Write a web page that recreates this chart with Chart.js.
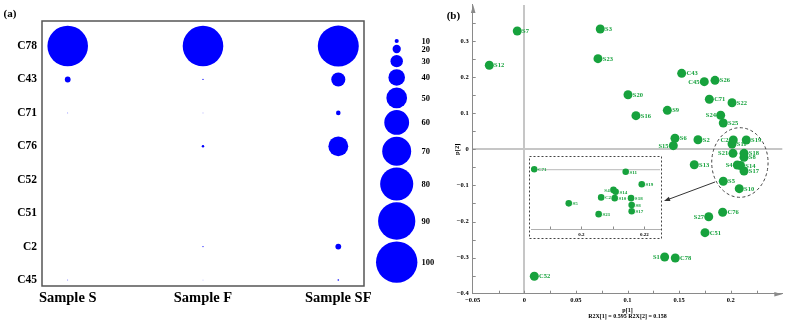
<!DOCTYPE html>
<html><head><meta charset="utf-8">
<script src="https://cdn.jsdelivr.net/npm/chart.js@4.4.1/dist/chart.umd.min.js"></script>
<style>
html,body{margin:0;padding:0;background:#fff;width:786px;height:326px;overflow:hidden}
.c{position:absolute}
canvas{display:block}
</style></head><body>
<div class="c" style="left:0;top:0"><canvas id="ca" width="372" height="326"></canvas></div>
<div class="c" style="left:372px;top:0"><canvas id="cl" width="70" height="326"></canvas></div>
<div class="c" style="left:440px;top:0"><canvas id="cb" width="346" height="326"></canvas></div>
<div class="c" style="left:529px;top:156px"><canvas id="ci" width="133" height="83"></canvas></div>
<script>
// ---------- Panel (a) data ----------
const samples = ['Sample S', 'Sample F', 'Sample SF'];
const compounds = ['C78', 'C43', 'C71', 'C76', 'C52', 'C51', 'C2', 'C45'];
const sampleS  = [98, 14, 2,   0,  0, 0, 0,  2];
const sampleF  = [98, 3,  1.5, 6,  0, 0, 3,  1.5];
const sampleSF = [99, 34, 11,  48, 0, 0, 14, 4];
const legendSizes = [10, 20, 30, 40, 50, 60, 70, 80, 90, 100];

// ---------- Panel (b) data ----------
const scoreNames = ['S1','S2','S3','S4','S5','S6','S7','S8','S9','S10','S11','S12','S13','S14','S15','S16','S17','S18','S19','S20','S21','S22','S23','S24','S25','S26','S27','C2','C43','C45','C51','C52','C71','C76','C78'];
const scoreX = [0.1360,0.1683,0.0736,0.2064,0.1928,0.1460,-0.0068,0.2129,0.1386,0.2083,0.2013,-0.0339,0.1647,0.2095,0.1444,0.1082,0.2129,0.2129,0.2151,0.1005,0.2022,0.2013,0.0714,0.1903,0.1928,0.1848,0.1787,0.2025,0.1525,0.1744,0.1751,0.0097,0.1793,0.1922,0.1463];
const scoreY = [-0.2983,0.0266,0.3332,-0.0435,-0.0886,0.0305,0.3277,-0.0222,0.1080,-0.1091,0.0147,0.2327,-0.0427,-0.0449,0.0100,0.0931,-0.0601,-0.0111,0.0258,0.1512,-0.0111,0.1291,0.2510,0.0942,0.0729,0.1911,-0.1867,0.0258,0.2105,0.1873,-0.2310,-0.3518,0.1385,-0.1745,-0.3011];
const p1TickLabels = [-0.05, 0, 0.05, 0.1, 0.15, 0.2];
const p2TickLabels = [-0.4, -0.3, -0.2, -0.1, 0, 0.1, 0.2, 0.3];

const insetNames = ['C71','S11','S19','S4','S14','C2','S10','S18','S8','S17','S5','S21'];
const insetX = [0.1850,0.2141,0.2192,0.2102,0.2109,0.2063,0.2106,0.2158,0.2160,0.2160,0.1960,0.2055];
const insetY = [0.0006,-0.0018,-0.0135,-0.0188,-0.0206,-0.0258,-0.0265,-0.0265,-0.0330,-0.0388,-0.0314,-0.0415];
const insetTickLabels = [0.2, 0.22];

const zoomEllipse = {x: 0.2089, y: -0.0366, rx: 0.0273, ry: 0.0964};
const zoomArrow = {from: [0.1848, -0.0906], to: [0.1354, -0.1432]};

// ---------- styling ----------
const FONT = "'Liberation Serif','Times New Roman',serif";
const GREEN = '#17a23d';
const BLUE = '#0000ff';
const K = 0.207; // bubble radius (px) per size unit
Chart.defaults.font.family = FONT;
Chart.defaults.color = '#000';
Chart.defaults.animation = false;
Chart.defaults.events = [];
Chart.defaults.plugins.legend.display = false;
Chart.defaults.plugins.tooltip.enabled = false;

const near = (a, b) => Math.abs(a - b) < 1e-9;
const fmt = v => String(Math.round(v * 1000) / 1000).replace('-', '\u2212');
const fixW = w => s => { s.width = w; s.paddingTop = 0; s.paddingBottom = 0; };
const fixH = h => s => { s.height = h; s.paddingLeft = 0; s.paddingRight = 0; };

function arrowHead(ctx, x, y, ang, len, hw) {
  const bx = x - len * Math.cos(ang), by = y - len * Math.sin(ang);
  ctx.beginPath();
  ctx.moveTo(x, y);
  ctx.lineTo(bx + hw * Math.sin(ang), by - hw * Math.cos(ang));
  ctx.lineTo(bx - hw * Math.sin(ang), by + hw * Math.cos(ang));
  ctx.closePath();
  ctx.fill();
}

function labelPlugin(names, leftNames, size, gap) {
  return {
    id: 'ptLabels',
    afterDatasetsDraw(chart) {
      const ctx = chart.ctx, meta = chart.getDatasetMeta(0);
      ctx.save();
      ctx.font = 'bold ' + size + 'px ' + FONT;
      ctx.fillStyle = GREEN;
      ctx.textBaseline = 'middle';
      meta.data.forEach((el, i) => {
        const n = names[i], left = leftNames.includes(n);
        ctx.textAlign = left ? 'right' : 'left';
        ctx.fillText(n, el.x + (left ? -gap : gap), el.y + 0.5);
      });
      ctx.restore();
    }
  };
}

function inwardTicks(chart, len, color, doY) {
  const {ctx, chartArea: a, scales: {x, y}} = chart;
  ctx.save();
  ctx.strokeStyle = color; ctx.lineWidth = 1;
  ctx.beginPath();
  x.ticks.forEach(t => {
    if (near(t.value, x.max) || near(t.value, x.min)) return;
    const px = Math.round(x.getPixelForValue(t.value)) + 0.5;
    ctx.moveTo(px, a.bottom); ctx.lineTo(px, a.bottom - len);
  });
  if (doY) y.ticks.forEach(t => {
    if (near(t.value, y.max) || near(t.value, y.min)) return;
    const py = Math.round(y.getPixelForValue(t.value)) + 0.5;
    ctx.moveTo(a.left, py); ctx.lineTo(a.left + len, py);
  });
  ctx.stroke();
  ctx.restore();
}

// ---------- Panel (a) bubble chart ----------
const bubbleData = [];
[sampleS, sampleF, sampleSF].forEach((arr, i) =>
  arr.forEach((v, j) => bubbleData.push({x: i, y: compounds.length - 1 - j, r: v * K})));

const boxA = {
  id: 'boxA',
  afterDraw(c) {
    const {ctx, chartArea: a} = c;
    ctx.save();
    ctx.strokeStyle = '#555'; ctx.lineWidth = 1.5;
    ctx.strokeRect(a.left, a.top, a.right - a.left, a.bottom - a.top);
    ctx.fillStyle = '#000'; ctx.font = 'bold 11px ' + FONT;
    ctx.textBaseline = 'middle'; ctx.textAlign = 'left';
    ctx.fillText('(a)', 3.5, 14);
    ctx.restore();
  }
};

new Chart(document.getElementById('ca'), {
  type: 'bubble',
  data: {datasets: [{data: bubbleData, backgroundColor: BLUE, borderWidth: 0}]},
  options: {
    responsive: false,
    layout: {autoPadding: false, padding: {top: 21, right: 8, left: 0, bottom: 0}},
    scales: {
      x: {type: 'linear', min: -0.19, max: 2.19,
        afterBuildTicks: s => { s.ticks = samples.map((_, i) => ({value: i})); },
        ticks: {callback: v => samples[v], font: {size: 14.5, weight: 'bold'}, padding: 4, maxRotation: 0, autoSkip: false},
        grid: {display: false, drawTicks: false}, border: {display: false},
        afterFit: fixH(40)},
      y: {type: 'linear', min: -0.18, max: 7.75,
        afterBuildTicks: s => { s.ticks = compounds.map((_, j) => ({value: j})); },
        ticks: {callback: v => compounds[compounds.length - 1 - v], font: {size: 11.5, weight: 'bold'}, padding: 5, autoSkip: false},
        grid: {display: false, drawTicks: false}, border: {display: false},
        afterFit: fixW(42)}
    }
  },
  plugins: [boxA]
});

// ---------- Size legend ----------
const legendCenters = [];
let cy = 41;
legendSizes.forEach((v, i) => {
  if (i > 0) cy += K * (legendSizes[i - 1] + v) + 1.8;
  legendCenters.push(cy);
});
const legendLabels = {
  id: 'legLabels',
  afterDatasetsDraw(chart) {
    const ctx = chart.ctx, meta = chart.getDatasetMeta(0);
    ctx.save();
    ctx.font = 'bold 8.5px ' + FONT; ctx.fillStyle = '#000';
    ctx.textBaseline = 'middle'; ctx.textAlign = 'left';
    meta.data.forEach((el, i) => ctx.fillText(String(legendSizes[i]), el.x + 24.8, el.y + 0.5));
    ctx.restore();
  }
};
new Chart(document.getElementById('cl'), {
  type: 'bubble',
  data: {datasets: [{data: legendSizes.map((v, i) => ({x: 0, y: legendCenters[i], r: v * K})), backgroundColor: BLUE, borderWidth: 0, clip: false}]},
  options: {
    responsive: false,
    layout: {autoPadding: false, padding: 0},
    scales: {
      x: {type: 'linear', min: -24.7, max: 45.3, display: false},
      y: {type: 'linear', min: 0, max: 326, reverse: true, display: false}
    }
  },
  plugins: [legendLabels]
});

// ---------- Panel (b) scores plot ----------
const decorB = {
  id: 'decorB',
  beforeDatasetsDraw(chart) {
    inwardTicks(chart, 3, '#8a8a8a', true);
    const {ctx, chartArea: a} = chart;
    ctx.save();
    ctx.fillStyle = '#8a8a8a';
    arrowHead(ctx, a.left + 0.5, a.top, -Math.PI / 2, 8, 2.3);
    arrowHead(ctx, a.right, a.bottom + 0.5, 0, 8, 2.3);
    ctx.restore();
  },
  afterDatasetsDraw(chart) {
    const {ctx, scales: {x, y}} = chart;
    ctx.save();
    const ex = x.getPixelForValue(zoomEllipse.x), ey = y.getPixelForValue(zoomEllipse.y);
    const rx = Math.abs(x.getPixelForValue(zoomEllipse.x + zoomEllipse.rx) - ex);
    const ry = Math.abs(y.getPixelForValue(zoomEllipse.y + zoomEllipse.ry) - ey);
    ctx.strokeStyle = '#444'; ctx.lineWidth = 1; ctx.setLineDash([3, 2.5]);
    ctx.beginPath(); ctx.ellipse(ex, ey, rx, ry, 0, 0, Math.PI * 2); ctx.stroke();
    ctx.setLineDash([]);
    const x1 = x.getPixelForValue(zoomArrow.from[0]), y1 = y.getPixelForValue(zoomArrow.from[1]);
    const x2 = x.getPixelForValue(zoomArrow.to[0]), y2 = y.getPixelForValue(zoomArrow.to[1]);
    const ang = Math.atan2(y2 - y1, x2 - x1);
    ctx.strokeStyle = '#333'; ctx.fillStyle = '#333';
    ctx.beginPath(); ctx.moveTo(x1, y1); ctx.lineTo(x2 - 5 * Math.cos(ang), y2 - 5 * Math.sin(ang)); ctx.stroke();
    arrowHead(ctx, x2, y2, ang, 6, 2.3);
    ctx.fillStyle = '#000'; ctx.font = 'bold 11px ' + FONT;
    ctx.textBaseline = 'middle'; ctx.textAlign = 'left';
    ctx.fillText('(b)', 6.7, 16);
    ctx.restore();
  }
};

const zeroGrid = {
  drawTicks: false,
  color: c => (c.tick && near(c.tick.value, 0)) ? '#c6c6c6' : 'rgba(0,0,0,0)',
  lineWidth: c => (c.tick && near(c.tick.value, 0)) ? 2 : 1
};

new Chart(document.getElementById('cb'), {
  type: 'scatter',
  data: {datasets: [{data: scoreNames.map((n, i) => ({x: scoreX[i], y: scoreY[i]})), backgroundColor: GREEN, borderWidth: 0, pointRadius: 4.5}]},
  options: {
    responsive: false,
    layout: {autoPadding: false, padding: {top: 4.9, right: 3.7, left: 0, bottom: 0}},
    scales: {
      x: {type: 'linear', min: -0.05, max: 0.25,
        ticks: {stepSize: 0.025, autoSkip: false, maxRotation: 0, padding: 3, font: {size: 6.5, weight: 'bold'},
          callback: v => p1TickLabels.some(t => near(t, v)) ? fmt(v) : ''},
        grid: zeroGrid, border: {display: true, color: '#8a8a8a', width: 1},
        title: {display: true, text: ['p[1]', 'R2X[1] = 0.595 R2X[2] = 0.158'], font: {size: 6, weight: 'bold', lineHeight: 1}, padding: {top: 0, bottom: 7}},
        afterFit: fixH(32.3)},
      y: {type: 'linear', min: -0.4, max: 0.4,
        ticks: {stepSize: 0.05, autoSkip: false, padding: 4, font: {size: 6.5, weight: 'bold'},
          callback: v => p2TickLabels.some(t => near(t, v)) ? fmt(v) : ''},
        grid: zeroGrid, border: {display: true, color: '#8a8a8a', width: 1},
        title: {display: true, text: 'p[2]', font: {size: 6.5, weight: 'bold'}, padding: {top: 13, bottom: 0}},
        afterFit: fixW(32.7)}
    }
  },
  plugins: [decorB, labelPlugin(scoreNames, ['C45','S24','S15','S27','S1','C2','S21','S4'], 6.5, 4.8)]
});

// ---------- Inset (zoomed cluster) ----------
const insetFrame = {
  id: 'insetFrame',
  beforeDatasetsDraw(chart) { inwardTicks(chart, 2.5, '#8a8a8a', false); },
  afterDraw(chart) {
    const ctx = chart.ctx;
    ctx.save();
    ctx.strokeStyle = '#444'; ctx.lineWidth = 1; ctx.setLineDash([2, 2]);
    ctx.strokeRect(0.5, 0.5, chart.width - 1, chart.height - 1);
    ctx.restore();
  }
};
new Chart(document.getElementById('ci'), {
  type: 'scatter',
  data: {datasets: [{data: insetNames.map((n, i) => ({x: insetX[i], y: insetY[i]})), backgroundColor: GREEN, borderWidth: 0, pointRadius: 3.3}]},
  options: {
    responsive: false,
    layout: {autoPadding: false, padding: {top: 1, right: 2, left: 0, bottom: 0}},
    scales: {
      x: {type: 'linear', min: 0.184, max: 0.225,
        ticks: {stepSize: 0.01, includeBounds: false, autoSkip: false, maxRotation: 0, padding: 2.5, font: {size: 5, weight: 'bold'},
          callback: v => insetTickLabels.some(t => near(t, v)) ? fmt(v) : ''},
        grid: {display: false, drawTicks: false}, border: {display: true, color: '#b0b0b0', width: 1},
        afterFit: fixH(10)},
      y: {type: 'linear', min: -0.0554, max: 0.012,
        ticks: {display: false, stepSize: 0.01},
        grid: {drawTicks: false, color: c => (c.tick && near(c.tick.value, 0)) ? '#c6c6c6' : 'rgba(0,0,0,0)', lineWidth: 1.3},
        border: {display: false},
        afterFit: fixW(2)}
    }
  },
  plugins: [insetFrame, labelPlugin(insetNames, ['S4'], 5, 3.8)]
});
</script>
</body></html>
